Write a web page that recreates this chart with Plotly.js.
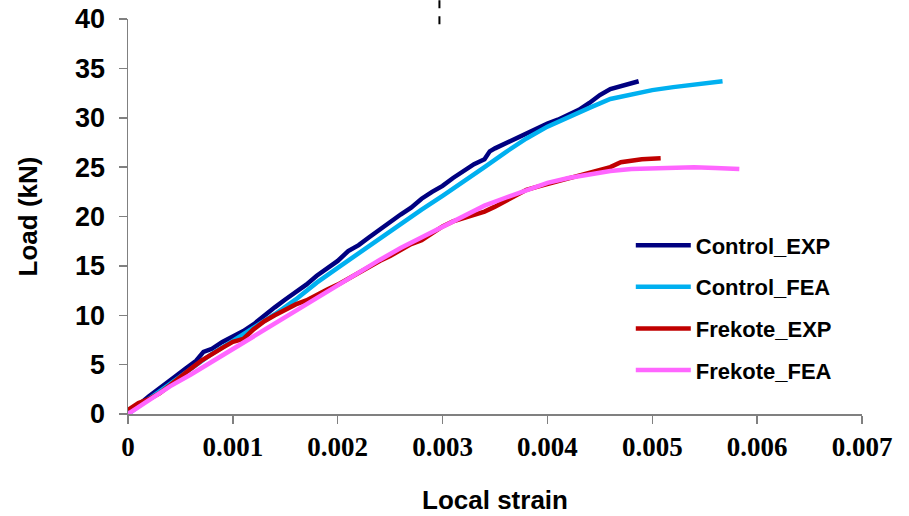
<!DOCTYPE html>
<html>
<head>
<meta charset="utf-8">
<script src="https://cdn.plot.ly/plotly-3.0.1.min.js"></script>
<style>html,body{margin:0;padding:0;background:#fff;}#chart{width:909px;height:516px;}</style>
</head>
<body>
<div id="chart"></div>
<script>
// Control_EXP
const controlExpStrain = [0, 0.00005, 0.00012, 0.0002, 0.00028, 0.00036, 0.00045, 0.00055, 0.00065, 0.00072, 0.0008, 0.0009, 0.001, 0.0011, 0.0012, 0.0013, 0.0014, 0.0015, 0.0016, 0.0017, 0.0018, 0.0019, 0.002, 0.0021, 0.0022, 0.0023, 0.0024, 0.0025, 0.0026, 0.0027, 0.0028, 0.0029, 0.003, 0.0031, 0.0032, 0.0033, 0.0034, 0.00345, 0.0035, 0.0036, 0.0037, 0.0038, 0.0039, 0.004, 0.0041, 0.0042, 0.0043, 0.0044, 0.0045, 0.0046, 0.0047, 0.0048, 0.00487];
const controlExpLoad = [0, 0.5, 1.1, 1.8, 2.4, 3.1, 3.8, 4.6, 5.4, 6.3, 6.6, 7.3, 7.8, 8.4, 9.1, 10.0, 10.8, 11.6, 12.3, 13.1, 14.0, 14.7, 15.5, 16.5, 17.1, 17.9, 18.7, 19.4, 20.2, 20.9, 21.8, 22.5, 23.1, 23.9, 24.6, 25.3, 25.8, 26.6, 26.9, 27.4, 28.0, 28.5, 29.0, 29.4, 29.8, 30.3, 30.8, 31.5, 32.3, 32.9, 33.2, 33.5, 33.7];
// Control_FEA
const controlFeaStrain = [0, 0.0002, 0.0004, 0.0006, 0.0008, 0.001, 0.0012, 0.0014, 0.0016, 0.0018, 0.002, 0.0022, 0.0024, 0.0026, 0.0028, 0.003, 0.0032, 0.0034, 0.0036, 0.0038, 0.004, 0.0042, 0.0044, 0.0046, 0.0048, 0.005, 0.0052, 0.0054, 0.0056, 0.00567];
const controlFeaLoad = [0, 1.5, 3.1, 4.6, 6.1, 7.4, 8.7, 10.1, 11.6, 13.3, 14.8, 16.3, 17.8, 19.2, 20.7, 22.1, 23.5, 25.0, 26.5, 27.9, 29.1, 30.1, 31.0, 31.9, 32.4, 32.8, 33.1, 33.4, 33.6, 33.7];
// Frekote_EXP
const frekoteExpStrain = [0, 0.0001, 0.0002, 0.0003, 0.0004, 0.0005, 0.0006, 0.0007, 0.0008, 0.0009, 0.001, 0.0011, 0.0012, 0.0013, 0.0014, 0.0015, 0.0016, 0.0017, 0.0018, 0.0019, 0.002, 0.0021, 0.0022, 0.0023, 0.0024, 0.0025, 0.0026, 0.0027, 0.0028, 0.0029, 0.003, 0.0031, 0.0032, 0.0033, 0.0034, 0.0035, 0.0036, 0.0037, 0.0038, 0.0039, 0.004, 0.0041, 0.0042, 0.0043, 0.0044, 0.0045, 0.0046, 0.0047, 0.0048, 0.0049, 0.00508];
const frekoteExpLoad = [0.4, 1.1, 1.5, 2.1, 2.9, 3.8, 4.6, 5.4, 6.1, 6.7, 7.3, 7.6, 8.6, 9.4, 10.0, 10.6, 11.1, 11.5, 12.1, 12.6, 13.1, 13.7, 14.4, 15.0, 15.5, 16.0, 16.6, 17.2, 17.6, 18.3, 19.0, 19.5, 19.8, 20.1, 20.5, 21.0, 21.6, 22.2, 22.7, 23.0, 23.3, 23.6, 23.9, 24.2, 24.5, 24.8, 25.0, 25.5, 25.7, 25.8, 25.9];
// Frekote_FEA
const frekoteFeaStrain = [0, 0.0002, 0.0004, 0.0006, 0.0008, 0.001, 0.0012, 0.0014, 0.0016, 0.0018, 0.002, 0.0022, 0.0024, 0.0026, 0.0028, 0.003, 0.0032, 0.0034, 0.0036, 0.0038, 0.004, 0.0042, 0.0044, 0.0046, 0.0048, 0.005, 0.0052, 0.0054, 0.0056, 0.00583];
const frekoteFeaLoad = [0, 1.4, 2.8, 4.0, 5.3, 6.6, 7.9, 9.1, 10.4, 11.7, 13.0, 14.4, 15.6, 16.8, 17.9, 19.0, 20.1, 21.1, 21.9, 22.7, 23.4, 23.9, 24.3, 24.6, 24.8, 24.9, 25.0, 25.0, 24.9, 24.8];

const seriesNames = ['Control_EXP', 'Control_FEA', 'Frekote_EXP', 'Frekote_FEA'];
const seriesColors = ['#000080', '#00B0F0', '#C00000', '#FF66FF'];
const xTickVals = [0, 0.001, 0.002, 0.003, 0.004, 0.005, 0.006, 0.007];
const xTickText = ['0', '0.001', '0.002', '0.003', '0.004', '0.005', '0.006', '0.007'];
const yTickVals = [0, 5, 10, 15, 20, 25, 30, 35, 40];
const dashedMarkerStrain = 0.00297;

const xs = [controlExpStrain, controlFeaStrain, frekoteExpStrain, frekoteFeaStrain];
const ys = [controlExpLoad, controlFeaLoad, frekoteExpLoad, frekoteFeaLoad];

const traces = seriesNames.map((n, i) => ({
  x: xs[i], y: ys[i], name: n, type: 'scatter', mode: 'lines',
  legendgroup: 'g' + i,
  line: {color: seriesColors[i], width: 4.5, shape: 'linear'},
  cliponaxis: false
}));

const axisColor = '#808080';
const layout = {
  width: 909, height: 516,
  margin: {l: 128, r: 47, t: 19, b: 102},
  paper_bgcolor: '#fff', plot_bgcolor: '#fff',
  showlegend: true,
  legend: {
    x: 0.685, y: 0.48, xanchor: 'left', yanchor: 'top',
    font: {family: 'Arial, "Liberation Sans", sans-serif', size: 22, color: '#000', weight: 'bold'},
    itemwidth: 55, tracegroupgap: 10, traceorder: 'grouped',
    bgcolor: 'rgba(0,0,0,0)', borderwidth: 0
  },
  xaxis: {
    range: [0, 0.007], tickvals: xTickVals, ticktext: xTickText,
    showgrid: false, zeroline: false, showline: true, linecolor: axisColor, linewidth: 1.5,
    ticks: 'outside', ticklen: 8, tickwidth: 1.5, tickcolor: axisColor,
    tickfont: {family: '"Times New Roman", "Liberation Serif", serif', size: 27, color: '#000', weight: 'bold'},
    title: {text: 'Local strain', font: {family: 'Arial, "Liberation Sans", sans-serif', size: 26, color: '#000', weight: 'bold'}, standoff: 30},
    automargin: false
  },
  yaxis: {
    range: [0, 40], tickvals: yTickVals,
    showgrid: false, zeroline: false, showline: true, linecolor: axisColor, linewidth: 1.5,
    ticks: 'outside', ticklen: 8, tickwidth: 1.5, tickcolor: axisColor, ticklabelstandoff: 8,
    tickfont: {family: 'Arial, "Liberation Sans", sans-serif', size: 27, color: '#000', weight: 'bold'},
    title: {text: 'Load (kN)', font: {family: 'Arial, "Liberation Sans", sans-serif', size: 26, color: '#000', weight: 'bold'}, standoff: 30},
    automargin: false
  },
  shapes: [{
    type: 'line', xref: 'x', yref: 'paper',
    x0: dashedMarkerStrain, x1: dashedMarkerStrain, y0: 0.987, y1: 1.05,
    line: {color: '#000', width: 2, dash: '8px,8px'}
  }]
};

Plotly.newPlot('chart', traces, layout, {displayModeBar: false, staticPlot: true});
</script>
</body>
</html>
